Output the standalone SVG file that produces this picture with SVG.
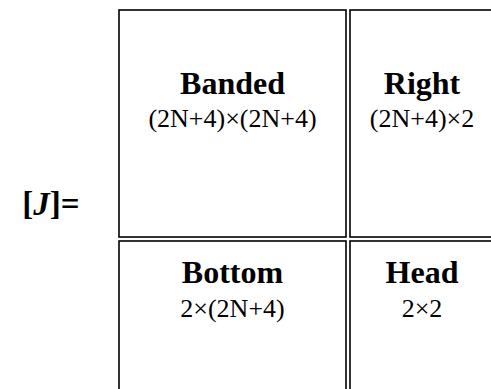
<svg xmlns="http://www.w3.org/2000/svg" width="491" height="389" viewBox="0 0 491 389">
<style>
.box{fill:#fff;stroke:#000;stroke-width:1.6}
.t{font-family:"Liberation Serif","Times New Roman",serif;text-anchor:middle;fill:#000}
.b{font-weight:bold;font-size:32px}
.r{font-size:26px}
</style>
<rect width="491" height="389" fill="#fff"/>
<text class="t b" x="51" y="215" style="font-size:33px">[<tspan font-style="italic">J</tspan>]=</text>
<g id="banded">
<rect class="box" x="119" y="10" width="227" height="227"/>
<text class="t b" x="232.5" y="94">Banded</text>
<text class="t r" x="232.5" y="127">(2N+4)×(2N+4)</text>
</g>
<g id="right">
<rect class="box" x="350" y="10" width="146" height="227"/>
<text class="t b" x="422" y="94">Right</text>
<text class="t r" x="422" y="127">(2N+4)×2</text>
</g>
<g id="bottom">
<rect class="box" x="119" y="241" width="227" height="160"/>
<text class="t b" x="232.5" y="283">Bottom</text>
<text class="t r" x="232.5" y="317">2×(2N+4)</text>
</g>
<g id="head">
<rect class="box" x="350" y="241" width="146" height="160"/>
<text class="t b" x="422" y="283">Head</text>
<text class="t r" x="422" y="317">2×2</text>
</g>
<g id="connectors"></g>
</svg>
